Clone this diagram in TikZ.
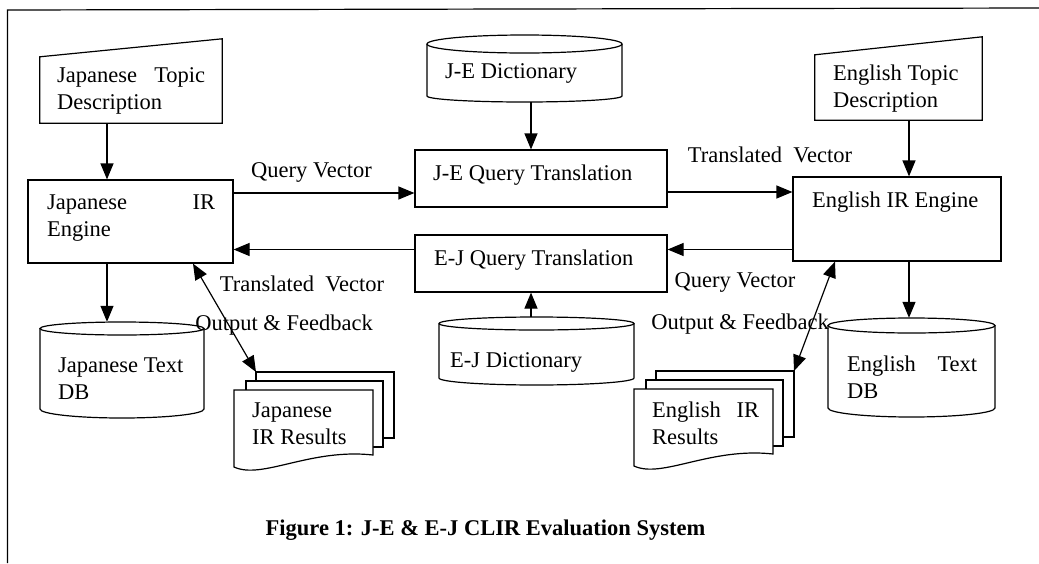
\documentclass[tikz,border=0pt]{standalone}
\usepackage{fontspec}
\setmainfont{Liberation Serif}
\usetikzlibrary{arrows.meta}
\tikzset{
  ln/.style={line width=1.2pt},
  arr/.style={ln, -{Triangle[length=16pt,width=13pt]}},
  darr/.style={ln, {Triangle[length=16pt,width=13pt]}-{Triangle[length=16pt,width=13pt]}},
  box/.style={draw, line width=1.2pt, inner sep=0pt},
  ghost/.style={inner sep=0pt, draw=none},
  txt/.style={font=\fontsize{22.5}{27}\selectfont, inner sep=0pt, anchor=west, align=left},
  lbl/.style={font=\fontsize{22.5}{27}\selectfont, inner sep=0pt}
}
% name x1 x2 ytop ysidebottom ry-top ry-bottom  (page px, y downward)
\newcommand\mycyl[7]{%
  \pgfmathsetmacro\mycx{(#2+#3)/2}%
  \pgfmathsetmacro\myrx{(#3-#2)/2}%
  \pgfmathsetmacro\mycy{-(#4+#5+#7)/2}%
  \pgfmathsetmacro\myh{#5+#7-#4}%
  \pgfmathsetmacro\myw{#3-#2}%
  \node[ghost, minimum width=\myw pt, minimum height=\myh pt] (#1) at (\mycx,\mycy) {};
  \draw[ln] (\mycx,-#4-#6) ellipse[x radius=\myrx, y radius=#6];
  \draw[ln] (#2,-#4-#6) -- (#2,-#5) arc[start angle=180, end angle=360, x radius=\myrx, y radius=#7] -- (#3,-#4-#6);
}
% name x0 y0 (top-left of front document)
\newcommand\mydocs[3]{%
  \draw[ln, fill=white] (#2+22,-#3+18) rectangle (#2+160,-#3-48);
  \draw[ln, fill=white] (#2+12,-#3+9) rectangle (#2+149,-#3-57);
  \draw[ln, fill=white] (#2,-#3) -- (#2+139,-#3) -- (#2+139,-#3-65)
     .. controls (#2+76,-#3-58) and (#2+28,-#3-90) .. (#2,-#3-77) -- cycle;
  \node[ghost, minimum width=139pt, minimum height=77pt] (#1) at (#2+69.5,-#3-38.5) {};
  \coordinate (#1-tl) at (#2+22,-#3+18);
  \coordinate (#1-tr) at (#2+160,-#3+18);
}
\begin{document}
\begin{tikzpicture}[x=1pt,y=1pt]
\useasboundingbox (0,0) rectangle (1039,-563);
% frame
\draw[ln] (7.5,-563) -- (7.5,-10) -- (1039,-8);

% topic descriptions (manual input shapes)
\node[ghost, minimum width=182pt, minimum height=84pt] (jtd) at (131,-81) {};
\draw[ln] (jtd.south west) -- (jtd.south east) -- (jtd.north east) -- ([yshift=-18pt]jtd.north west) -- cycle;
\node[ghost, minimum width=167pt, minimum height=83pt] (etd) at (898.5,-78.5) {};
\draw[ln] (etd.south west) -- (etd.south east) -- (etd.north east) -- ([yshift=-18pt]etd.north west) -- cycle;

% process boxes
\node[box, minimum width=205pt, minimum height=83pt] (jir) at (130.5,-221.5) {};
\node[box, minimum width=252pt, minimum height=57pt] (jeqt) at (541,-178.5) {};
\node[box, minimum width=252pt, minimum height=57pt] (ejqt) at (541,-263.5) {};
\node[box, minimum width=208pt, minimum height=84pt] (eir) at (897,-219) {};

% cylinders
\mycyl{jedict}{427}{622}{35}{96}{9}{6}
\mycyl{ejdict}{439}{634}{317}{378}{6.5}{7}
\mycyl{jtdb}{40}{204}{322}{409}{6.5}{9}
\mycyl{etdb}{828}{995}{318}{408}{7.5}{9}

% documents
\mydocs{jres}{234}{390}
\mydocs{eres}{634}{389}

% texts
\node[txt, text width=148pt] (jtdT) at (57,-90.5) {Japanese\hfill Topic\\Description};
\node[txt, text width=168pt] (jirT) at (47,-218) {Japanese\hfill IR\\Engine};
\node[txt] (jedictT) at (445,-73) {J-E Dictionary};
\node[txt] (jeqtT) at (433,-175) {J-E Query Translation};
\node[txt] (ejqtT) at (434,-260) {E-J Query Translation};
\node[txt] (etdT) at (833,-88.5) {English Topic\\Description};
\node[txt] (eirT) at (812,-202) {English IR Engine};
\node[txt] (ejdictT) at (450,-362) {E-J Dictionary};
\node[txt] (jtdbT) at (58,-379) {Japanese Text\\DB};
\node[txt, text width=130pt] (etdbT) at (847,-377.5) {English\hfill Text\\DB};
\node[txt] (jresT) at (252,-424) {Japanese\\IR Results};
\node[txt, text width=107pt] (eresT) at (652,-423.5) {English\hfill IR\\Results};

% connector helper coordinates
\coordinate (jx) at (107,0);
\coordinate (ex) at (909,0);
\coordinate (dx) at (531,0);
\coordinate (y1) at (0,-193);
\coordinate (y2) at (0,-192);
\coordinate (y3) at (0,-249.5);
\coordinate (jfb) at (193,0);
\coordinate (efb) at (835,0);

% vertical arrows
\draw[arr] (jtd.south -| jx) -- (jir.north -| jx);
\draw[arr] (jir.south -| jx) -- (jtdb.north -| jx);
\draw[arr] (jedict.south -| dx) -- (jeqt.north -| dx);
\draw[arr] (ejdict.north -| dx) -- (ejqt.south -| dx);
\draw[arr] (etd.south -| ex) -- (eir.north -| ex);
\draw[arr] (eir.south -| ex) -- (etdb.north -| ex);

% horizontal arrows
\draw[arr] (jir.east |- y1) -- (jeqt.west |- y1);
\draw[arr] (jeqt.east |- y2) -- (eir.west |- y2);
\draw[arr] (eir.west |- y3) -- (ejqt.east |- y3);
\draw[arr] (ejqt.west |- y3) -- (jir.east |- y3);

% output & feedback
\draw[darr] (jir.south -| jfb) -- (jres-tl);
\draw[darr] (eir.south -| efb) -- (eres-tr);

% labels
\node[lbl] (qv1) at (311.5,-172) {Query Vector};
\node[lbl] (tv1) at (770,-155) {Translated\ \ Vector};
\node[lbl] (tv2) at (302,-284) {Translated\ \ Vector};
\node[lbl] (qv2) at (735,-282) {Query Vector};
\node[lbl] (of1) at (284,-325) {Output \& Feedback};
\node[lbl] (of2) at (740,-324) {Output \& Feedback};
\node[lbl, font=\fontsize{22.5}{27}\selectfont\bfseries] (cap) at (485.5,-530) {Figure 1: J-E \& E-J CLIR Evaluation System};
\end{tikzpicture}
\end{document}
